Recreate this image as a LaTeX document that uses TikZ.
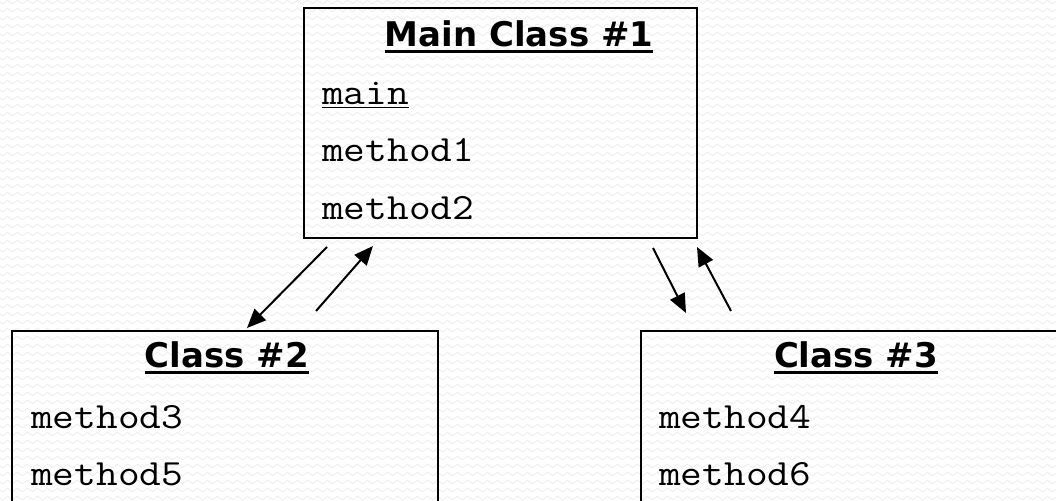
\documentclass[tikz,border=0pt]{standalone}
\usepackage{fontspec}
\newfontfamily\titlefont{DejaVu Sans}
\newfontfamily\codefont{Latin Modern Mono}[FakeStretch=1.14]
\usetikzlibrary{arrows.meta,decorations.pathmorphing}
\definecolor{texture}{RGB}{236,236,236}
\newcommand{\myul}[3]{\setbox0\hbox{#1}\rlap{\rule[#2]{\wd0}{#3}}\box0}
\begin{document}
\begin{tikzpicture}[x=1bp,y=-1bp,
  classbox/.style={draw, line width=2.5bp, rectangle, inner sep=0pt, outer sep=0pt, anchor=north west},
  ttl/.style={anchor=base, inner sep=0pt, font=\titlefont\bfseries\fontsize{34bp}{40bp}\selectfont},
  code/.style={anchor=base west, inner sep=0pt, font=\codefont\fontsize{37bp}{42bp}\selectfont},
  link/.style={line width=2bp, -{Triangle[length=19bp,width=16bp]}}]
\useasboundingbox (0,0) rectangle (1056,501);
\fill[white] (0,0) rectangle (1056,501);
\foreach \yy in {2,10,...,506}
  \draw[texture, line width=0.7bp, decorate, decoration={zigzag, segment length=10bp, amplitude=1.8bp}] (-5,\yy) -- (1061,\yy);

% boxes
\node[classbox, minimum width=393bp, minimum height=230bp] (main) at (304,8) {};
\node[classbox, minimum width=426bp, minimum height=220bp] (c2) at (12,331) {};
\node[classbox, minimum width=432bp, minimum height=220bp] (c3) at (641,331) {};

% main class texts
\node[ttl] (t1) at (519,47) {\myul{Main Class \#1}{-6.5bp}{3bp}};
\node[code] (m0) at (322,105) {\myul{main}{-3.5bp}{1.5bp}};
\node[code] (m1) at (322,162) {method1};
\node[code] (m2) at (322,220) {method2};

% class 2 texts
\node[ttl] (t2) at (227,368) {\myul{Class \#2}{-6.5bp}{3bp}};
\node[code] (m3) at (31,428) {method3};
\node[code] (m5) at (31,485) {method5};

% class 3 texts
\node[ttl] (t3) at (856,368) {\myul{Class \#3}{-6.5bp}{3bp}};
\node[code] (m4) at (659,428) {method4};
\node[code] (m6) at (659,485) {method6};

% arrow end points
\coordinate (a1) at (327,247);
\coordinate (a2) at (247,328);
\coordinate (b1) at (316,311);
\coordinate (b2) at (373,246);
\coordinate (c1) at (653,248);
\coordinate (c2e) at (686,313);
\coordinate (d1) at (731,311);
\coordinate (d2) at (697,247);

\draw[link] (a1) -- (a2);
\draw[link] (b1) -- (b2);
\draw[link] (c1) -- (c2e);
\draw[link] (d1) -- (d2);
\end{tikzpicture}
\end{document}
